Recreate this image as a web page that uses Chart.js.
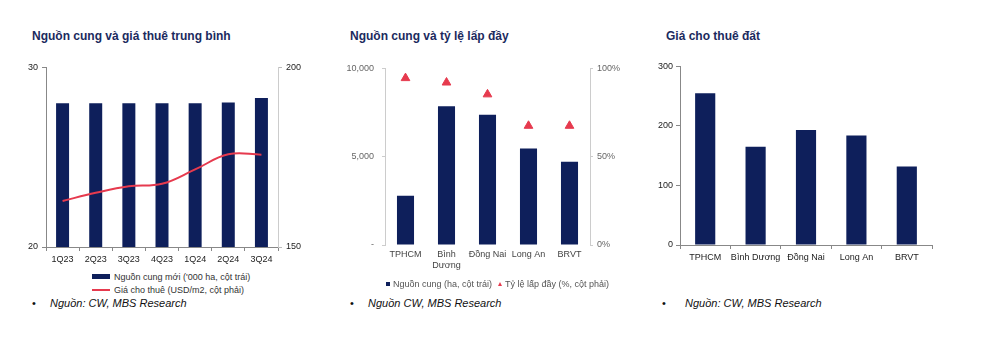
<!DOCTYPE html>
<html>
<head>
<meta charset="utf-8">
<script src="https://cdn.jsdelivr.net/npm/chart.js@4.4.1/dist/chart.umd.min.js"></script>
<style>
    body { margin: 0; background: #fff; font-family: 'Liberation Sans', Arial, sans-serif; }
    .page { position: relative; width: 1000px; height: 341px; overflow: hidden; }
    .title { position: absolute; top: 29px; font-size: 12px; font-weight: bold; color: #1B2A5E; white-space: nowrap; }
    .box { position: absolute; top: 58px; height: 210px; }
    .legend { position: absolute; font-size: 9px; color: #333; white-space: nowrap; }
    .legend .row { display: flex; align-items: center; height: 13px; }
    .sw-bar { display: inline-block; width: 18px; height: 5px; background: #0E1F5B; margin-right: 4px; }
    .sw-line { display: inline-block; width: 18px; height: 2px; background: #E63A4E; margin-right: 4px; }
    .sw-sq { display: inline-block; width: 4px; height: 4px; background: #0E1F5B; margin-right: 3px; }
    .sw-tri { display: inline-block; width: 0; height: 0; border-left: 2.5px solid transparent; border-right: 2.5px solid transparent; border-bottom: 4px solid #E63A4E; margin-right: 3px; }
    .src { position: absolute; top: 297px; font-size: 11px; font-style: italic; color: #111; white-space: nowrap; }
    .dot { position: absolute; top: 297px; font-size: 11px; color: #111; }
</style>
</head>
<body>
<div class="page">
    <div class="title" style="left:32px">Nguồn cung và giá thuê trung bình</div>
    <div class="title" style="left:350px">Nguồn cung và tỷ lệ lấp đầy</div>
    <div class="title" style="left:666px">Giá cho thuê đất</div>

    <div class="box" style="left:0;width:310px"><canvas id="supplyRentChart"></canvas></div>
    <div class="box" style="left:330px;top:55px;width:300px;height:228px"><canvas id="occupancyChart"></canvas></div>
    <div class="box" style="left:650px;width:300px"><canvas id="landPriceChart"></canvas></div>

    <div class="legend" style="left:92px;top:270px">
        <div class="row"><span class="sw-bar"></span>Nguồn cung mới ('000 ha, cột trái)</div>
        <div class="row"><span class="sw-line"></span>Giá cho thuê (USD/m2, cột phải)</div>
    </div>
    <div class="legend" style="left:386px;top:277px;color:#555">
        <div class="row"><span class="sw-sq"></span>Nguồn cung (ha, cột trái)<span style="width:6px"></span><span class="sw-tri"></span>Tỷ lệ lấp đầy (%, cột phải)</div>
    </div>

    <div class="dot" style="left:32px">•</div><div class="src" style="left:50px">Nguồn: CW, MBS Research</div>
    <div class="dot" style="left:350px">•</div><div class="src" style="left:368px">Nguồn CW, MBS Research</div>
    <div class="dot" style="left:662px">•</div><div class="src" style="left:685px">Nguồn: CW, MBS Research</div>
</div>

<script>
    const NAVY = '#0E1F5B';
    const RED = '#E63A4E';
    const FONT = { family: "'Liberation Sans', Arial, sans-serif", size: 9 };

    // quarterly supply ('000 ha) and average rent (USD/m2)
    const quarters = ['1Q23', '2Q23', '3Q23', '4Q23', '1Q24', '2Q24', '3Q24'];
    const newSupply = [28.0, 28.0, 28.0, 28.0, 28.0, 28.05, 28.3];
    const avgRent = [162.8, 165.1, 166.9, 167.6, 171.6, 175.8, 175.7];

    // supply (ha) and occupancy (%) by province
    const provinces = ['TPHCM', ['Bình', 'Dương'], 'Đồng Nai', 'Long An', 'BRVT'];
    const provinceSupply = [2790, 7850, 7380, 5460, 4710];
    const occupancyRate = [94.5, 92, 85.3, 67.5, 67.5];

    // land rent by province
    const landProvinces = ['TPHCM', 'Bình Dương', 'Đồng Nai', 'Long An', 'BRVT'];
    const landPrice = [255, 165, 193, 184, 132];

    Chart.defaults.animation = false;
    Chart.defaults.font = FONT;
    Chart.defaults.plugins.legend.display = false;
    Chart.defaults.plugins.tooltip.enabled = false;

    function fixWidth(w) { return axis => { axis.width = w; }; }
    function fixHeight(h) { return axis => { axis.height = h; }; }

    new Chart(document.getElementById('supplyRentChart'), {
        data: {
            labels: quarters,
            datasets: [{
                type: 'line',
                data: avgRent,
                yAxisID: 'yRight',
                borderColor: RED,
                borderWidth: 2,
                pointRadius: 0,
                tension: 0.4
            }, {
                type: 'bar',
                data: newSupply,
                yAxisID: 'yLeft',
                backgroundColor: NAVY,
                categoryPercentage: 0.8,
                barPercentage: 0.49
            }]
        },
        options: {
            responsive: true,
            maintainAspectRatio: false,
            layout: { padding: { top: 8 } },
            scales: {
                x: {
                    afterFit: fixHeight(21),
                    grid: { drawOnChartArea: false, tickLength: 4, color: '#888' },
                    border: { color: '#888' },
                    ticks: { color: '#222', maxRotation: 0, autoSkip: false, padding: 3 }
                },
                yLeft: {
                    position: 'left',
                    min: 20, max: 30,
                    afterFit: fixWidth(46),
                    grid: { drawOnChartArea: false, tickLength: 4, color: '#888' },
                    border: { color: '#888' },
                    ticks: { stepSize: 10, color: '#222', padding: 4 }
                },
                yRight: {
                    position: 'right',
                    min: 150, max: 200,
                    afterFit: fixWidth(32),
                    grid: { drawOnChartArea: false, tickLength: 4, color: '#bbb' },
                    border: { color: '#ccc' },
                    ticks: { stepSize: 50, color: '#222', padding: 4 }
                }
            }
        }
    });

    new Chart(document.getElementById('occupancyChart'), {
        data: {
            labels: provinces,
            datasets: [{
                type: 'line',
                data: occupancyRate,
                yAxisID: 'yRight',
                showLine: false,
                pointStyle: 'triangle',
                pointRadius: 5,
                backgroundColor: RED,
                borderColor: RED
            }, {
                type: 'bar',
                data: provinceSupply,
                yAxisID: 'yLeft',
                backgroundColor: NAVY,
                categoryPercentage: 0.8,
                barPercentage: 0.52
            }]
        },
        options: {
            responsive: true,
            maintainAspectRatio: false,
            layout: { padding: { top: 4 } },
            scales: {
                x: {
                    afterFit: fixHeight(38),
                    grid: { display: false, drawTicks: false },
                    border: { display: false },
                    ticks: { color: '#444', maxRotation: 0, autoSkip: false, padding: 4 }
                },
                yLeft: {
                    position: 'left',
                    min: 0, max: 10000,
                    afterFit: fixWidth(55),
                    grid: { drawOnChartArea: false, tickLength: 3, color: '#ccc' },
                    border: { color: '#ccc' },
                    ticks: {
                        stepSize: 5000, color: '#666', padding: 8,
                        callback: v => v === 0 ? '-' : v.toLocaleString('en-US')
                    }
                },
                yRight: {
                    position: 'right',
                    min: 0, max: 100,
                    afterFit: fixWidth(40),
                    grid: { drawOnChartArea: false, tickLength: 3, color: '#ccc' },
                    border: { color: '#ccc' },
                    ticks: { stepSize: 50, color: '#666', padding: 4, callback: v => v + '%' }
                }
            }
        }
    });

    new Chart(document.getElementById('landPriceChart'), {
        type: 'bar',
        data: {
            labels: landProvinces,
            datasets: [{
                data: landPrice,
                backgroundColor: NAVY,
                categoryPercentage: 0.8,
                barPercentage: 0.5
            }]
        },
        options: {
            responsive: true,
            maintainAspectRatio: false,
            layout: { padding: { top: 7, right: 18 } },
            scales: {
                x: {
                    afterFit: fixHeight(23),
                    grid: { drawOnChartArea: false, tickLength: 4, color: '#888' },
                    border: { color: '#888' },
                    ticks: { color: '#222', maxRotation: 0, autoSkip: false, padding: 3 }
                },
                y: {
                    min: 0, max: 300,
                    afterFit: fixWidth(30),
                    grid: { drawOnChartArea: false, tickLength: 4, color: '#888' },
                    border: { color: '#888' },
                    ticks: { stepSize: 100, color: '#222', padding: 3 }
                }
            }
        }
    });
</script>
</body>
</html>
